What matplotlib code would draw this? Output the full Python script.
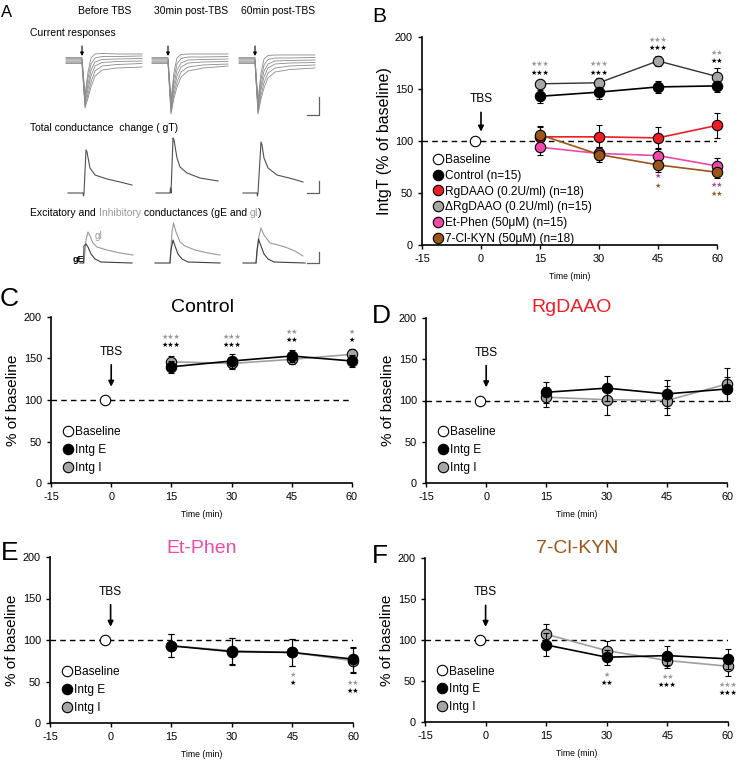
import matplotlib
matplotlib.use("Agg")
import matplotlib.pyplot as plt
from matplotlib.lines import Line2D

plt.rcParams['font.family'] = ['Liberation Sans', 'DejaVu Sans']
plt.rcParams['axes.unicode_minus'] = False

W, H = 740, 761

# ---------------- data ----------------
times = [15, 30, 45, 60]
base_x = -1.5          # baseline point sits just left of 0
base_y = 100

# B : IntgT (% of baseline)
ctrl = [143, 147, 152, 153]
ctrl_err = [6, 7, 6, 6]
drg = [155, 156, 177, 162]
drg_err = [3, 5, 5, 8]
rg = [104, 104, 103, 115]
rg_err = [9, 11, 10, 12]
eth = [94, 88, 86, 76]
eth_err = [7, 6, 6, 8]
kyn = [106, 87, 77, 70]
kyn_err = [8, 7, 7, 6]

# C-F : Intg E / Intg I
c_e, c_e_err = [140, 147, 153, 147], [7, 8, 7, 7]
c_i, c_i_err = [146, 144, 149, 155], [7, 7, 6, 7]
d_e, d_e_err = [110, 115, 108, 114], [13, 15, 17, 14]
d_i, d_i_err = [104, 101, 100, 120], [12, 18, 18, 20]
e_e, e_e_err = [93, 86, 85, 77], [14, 16, 16, 15]
e_i, e_i_err = [93, 87, 85, 75], [14, 16, 16, 15]
f_e, f_e_err = [94, 79, 81, 77], [14, 9, 12, 12]
f_i, f_i_err = [107, 87, 75, 68], [12, 12, 9, 12]

# significance stars: (time, y, n stars, colour key)
b_stars = [(15, 174, 3, 'g'), (15, 165, 3, 'k'), (30, 174, 3, 'g'), (30, 165, 3, 'k'),
           (45, 197, 3, 'g'), (45, 189, 3, 'k'), (60, 185, 2, 'g'), (60, 177, 2, 'k'),
           (45, 66, 1, 'p'), (45, 57, 1, 'b'), (60, 58, 2, 'p'), (60, 49, 2, 'b')]
c_stars = [(15, 176, 3, 'g'), (15, 166, 3, 'k'), (30, 176, 3, 'g'), (30, 166, 3, 'k'),
           (45, 182, 2, 'g'), (45, 172, 2, 'k'), (60, 182, 1, 'g'), (60, 172, 1, 'k')]
e_stars = [(45, 58, 1, 'g'), (45, 48, 1, 'k'), (60, 48, 2, 'g'), (60, 38, 2, 'k')]
f_stars = [(30, 57, 1, 'g'), (30, 47, 2, 'k'), (45, 55, 2, 'g'), (45, 45, 3, 'k'),
           (60, 45, 3, 'g'), (60, 35, 3, 'k')]

# A : example traces (pixel coords of panel A)
cur_dx = [-16, 0, 3, 6, 9, 13, 20, 35, 60]
cur_stim = [82, 168, 255]
cur_traces = [
    [[57.5, 57.5, 95, 72, 58, 54, 53.5, 54, 54],
     [58.7, 58.7, 98, 78, 64, 58, 56.5, 56.5, 56],
     [59.9, 59.9, 101, 84, 70, 62, 59.5, 59, 58.5],
     [61.1, 61.1, 103, 89, 76, 66, 62.5, 61.5, 61],
     [62.3, 62.3, 106, 94, 82, 71, 66, 64.5, 63.5],
     [63.5, 63.5, 108, 98, 87, 76, 70, 68, 67]],
    [[57.5, 57.5, 100, 72, 58, 54.5, 54, 54, 54],
     [58.7, 58.7, 103, 78, 64, 58.5, 57, 57, 56.5],
     [59.9, 59.9, 106, 84, 70, 63, 60, 59.5, 59],
     [61.1, 61.1, 109, 89, 76, 67, 63, 62, 61.5],
     [62.3, 62.3, 112, 94, 82, 72, 67, 65, 64],
     [63.5, 63.5, 114, 98, 87, 77, 71, 68, 66]],
    [[57.5, 57.5, 100, 73, 59, 55.5, 55, 55, 55],
     [58.7, 58.7, 103, 79, 65, 59.5, 58, 58, 57.5],
     [59.9, 59.9, 106, 85, 71, 64, 61, 60.5, 60],
     [61.1, 61.1, 109, 90, 77, 68, 64, 63, 62.5],
     [62.3, 62.3, 112, 95, 83, 73, 68, 66, 65],
     [63.5, 63.5, 114, 99, 88, 78, 72, 69.5, 68]],
]
gt_x = [[68, 83, 83.5, 84, 86, 87, 90, 95, 107, 120, 132],
        [156, 170, 170.5, 171, 173, 174, 177, 180, 187, 200, 218],
        [243, 257, 257.5, 258, 261, 262, 264, 268, 277, 293, 303]]
gt_y = [[193, 193, 196, 193, 150, 152, 168, 175, 179, 182, 185],
        [193, 193, 188, 193, 138, 140, 158, 167, 173, 178, 181],
        [193, 193, 196, 193, 142, 145, 158, 168, 175, 179, 182]]
ge_x = [[80, 83.5, 84, 86, 88, 91, 95, 101, 132],
        [155, 170, 171, 173, 175, 178, 182, 188, 220],
        [243, 256, 257, 258.5, 261, 264, 268, 274, 305]]
ge_y = [[263, 263, 246, 244, 247, 254, 259, 262, 263],
        [263, 263, 250, 240, 246, 254, 259, 262, 263],
        [263, 263, 250, 239, 246, 254, 259, 262, 263]]
gi_x = [[84, 86, 88, 90, 93, 97, 107, 120, 133],
        [170, 172, 173.5, 176, 180, 185, 195, 208, 220],
        [256, 259, 261, 264, 270, 278, 285, 295, 303]]
gi_y = [[263, 240, 232, 236, 243, 247, 250, 253, 255],
        [263, 232, 223, 232, 242, 246, 250, 253, 255],
        [263, 236, 228, 235, 243, 245, 247, 251, 256]]

RED = '#ee1c25'
PINK = '#ef4aa9'
BROWN = '#9c5518'
GREY = '#a6a6a6'
star_col = {'g': '#999999', 'k': 'black', 'p': '#b0489a', 'b': '#8c5a2b'}

fig = plt.figure(figsize=(7.4, 7.61), dpi=100)


def px_axes(x0, y0, x1, y1):
    return fig.add_axes([x0 / W, 1 - y1 / H, (x1 - x0) / W, (y1 - y0) / H])


def style(ax):
    ax.set_xlim(-15, 60)
    ax.set_ylim(0, 200)
    ax.set_xticks([-15, 0, 15, 30, 45, 60])
    ax.set_yticks([0, 50, 100, 150, 200])
    for s in ['top', 'right']:
        ax.spines[s].set_visible(False)
    for s in ['left', 'bottom']:
        ax.spines[s].set_linewidth(1.2)
    ax.tick_params(labelsize=7.8, length=3, width=1, direction='out')
    ax.axhline(100, color='k', lw=1, dashes=(4, 3), zorder=1)
    ax.set_xlabel('Time (min)', fontsize=6.2, labelpad=6)
    ax.plot([base_x], [base_y], 'o', ms=7.5, mfc='white', mec='k', mew=0.8, zorder=5)


def series(ax, y, err, fc, lc, lw=1.2, z=3):
    ax.errorbar(times, y, yerr=err, fmt='none', ecolor='k', elinewidth=0.8,
                capsize=2, capthick=0.8, zorder=z, clip_on=False)
    ax.plot(times, y, '-', color=lc, lw=lw, zorder=z + 0.1, clip_on=False)
    ax.plot(times, y, 'o', ms=7.5, mfc=fc, mec='k', mew=0.8, zorder=z + 0.2, clip_on=False)


def stars(ax, lst):
    for x, y, n, c in lst:
        ax.text(x, y, '\u2605' * n, ha='center', va='center', fontsize=5,
                color=star_col[c], family='DejaVu Sans', clip_on=False)


def tbs(ax, txt_y, tip_y):
    ax.annotate('TBS', xy=(0, tip_y), xytext=(0, txt_y), ha='center', va='center',
                fontsize=8.6, arrowprops=dict(arrowstyle='-|>', color='k', lw=1.2,
                                              mutation_scale=8, shrinkA=3, shrinkB=0))


def legend(ax, labels, colors, x, y, sp):
    hs = [Line2D([], [], ls='none', marker='o', ms=7.5, mfc=c, mec='k', mew=0.8) for c in colors]
    ax.legend(hs, labels, loc='lower left', bbox_to_anchor=(x, y), frameon=False,
              fontsize=8.6, handlelength=1, handletextpad=0.1, labelspacing=sp,
              borderpad=0, borderaxespad=0)


# ---------------- panel A ----------------
axA = fig.add_axes([0, 1 - 270 / H, 335 / W, 270 / H])
axA.set_xlim(0, 335)
axA.set_ylim(270, 0)
axA.axis('off')

for x, s in zip([105, 191, 278], ['Before TBS', '30min post-TBS', '60min post-TBS']):
    axA.text(x, 11, s, ha='center', va='center', fontsize=7.5)
axA.text(30, 33, 'Current responses', ha='left', va='center', fontsize=7.5)
axA.text(30, 128, 'Total conductance  change ( gT)', ha='left', va='center', fontsize=7.5)

prev = axA.text(30, 213, 'Excitatory and ', ha='left', va='center', fontsize=7.5)
for part, col in [('Inhibitory', '#9a9a9a'), (' conductances (gE and ', 'black'),
                  ('gI', '#9a9a9a'), (')', 'black')]:
    prev = axA.annotate(part, xy=(1, 0), xycoords=prev, ha='left', va='bottom',
                        fontsize=7.5, color=col)

for k in range(3):
    sx = cur_stim[k]
    for tr in cur_traces[k]:
        axA.plot([sx + d for d in cur_dx], tr, color='#8a8a8a', lw=0.6)
    axA.annotate('', xy=(sx, 56), xytext=(sx, 46),
                 arrowprops=dict(arrowstyle='-|>', color='k', lw=0.8, mutation_scale=5,
                                 shrinkA=0, shrinkB=0))
    axA.plot(gt_x[k], gt_y[k], color='#505050', lw=0.8)
    axA.plot(gi_x[k], gi_y[k], color='#9a9a9a', lw=0.8)
    axA.plot(ge_x[k], ge_y[k], color='#404040', lw=0.8)

axA.text(78, 260, 'gE', ha='center', va='center', fontsize=6.5, fontweight='bold')
axA.text(99, 236, 'gI', ha='center', va='center', fontsize=7, color='#9a9a9a')

for yt, yb in [(97, 115), (181, 193), (252, 263)]:
    axA.plot([307, 319, 319], [yb, yb, yt], color='#606060', lw=0.9)

# ---------------- panel B ----------------
axB = px_axes(422, 37, 717, 245)
style(axB)
series(axB, drg, drg_err, GREY, '#333333', lw=1.0)
series(axB, ctrl, ctrl_err, 'black', 'black')
series(axB, rg, rg_err, RED, RED)
series(axB, eth, eth_err, PINK, PINK)
series(axB, kyn, kyn_err, BROWN, BROWN)
stars(axB, b_stars)
tbs(axB, 140, 109)
axB.set_ylabel('IntgT (% of baseline)', fontsize=11.5, labelpad=2)
legend(axB, ['Baseline', 'Control (n=15)', 'RgDAAO (0.2U/ml) (n=18)',
             '\u0394RgDAAO (0.2U/ml) (n=15)', 'Et-Phen (50\u03bcM) (n=15)',
             '7-Cl-KYN (50\u03bcM) (n=18)'],
       ['white', 'black', RED, GREY, PINK, BROWN], 0.033, 0.0, 0.32)

# ---------------- panels C-F ----------------
boxes = [(51, 317, 352, 483), (426, 318, 727, 483), (50, 557, 353, 723), (425, 558, 728, 722)]
E_data = [(c_e, c_e_err), (d_e, d_e_err), (e_e, e_e_err), (f_e, f_e_err)]
I_data = [(c_i, c_i_err), (d_i, d_i_err), (e_i, e_i_err), (f_i, f_i_err)]
star_sets = [c_stars, [], e_stars, f_stars]
for k in range(4):
    ax = px_axes(*boxes[k])
    style(ax)
    series(ax, *I_data[k], GREY, '#a0a0a0')
    series(ax, *E_data[k], 'black', 'black', z=4)
    stars(ax, star_sets[k])
    tbs(ax, 158, 116)
    ax.set_ylabel('% of baseline', fontsize=11, labelpad=3)
    legend(ax, ['Baseline', 'Intg E', 'Intg I'], ['white', 'black', GREY], 0.036, 0.055, 0.48)

# titles and panel letters
for x, y, s, c in [(202, 312, 'Control', 'black'), (572, 312, 'RgDAAO', RED),
                   (202, 553, 'Et-Phen', PINK), (577, 553, '7-Cl-KYN', BROWN)]:
    fig.text(x / W, 1 - y / H, s, ha='center', va='baseline', fontsize=14, color=c)

for x, y, s, fs in [(1, 17, 'A', 12), (372, 22, 'B', 15), (0, 306, 'C', 19),
                    (372, 323, 'D', 19), (1, 560, 'E', 19), (372, 563, 'F', 19)]:
    fig.text(x / W, 1 - y / H, s, ha='left', va='baseline', fontsize=fs)

fig.savefig('out.png', dpi=100)
